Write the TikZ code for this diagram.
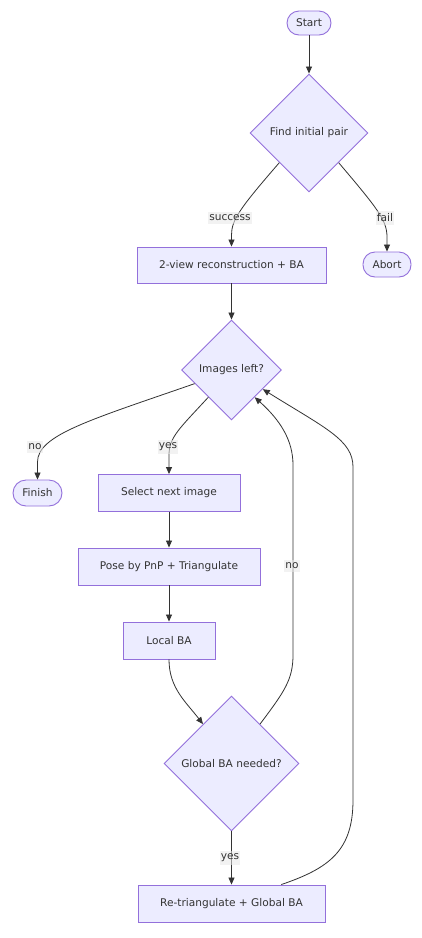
\documentclass[tikz,border=0pt]{standalone}
\usepackage{fontspec}
\setmainfont{DejaVu Sans}
\usetikzlibrary{shapes.geometric,arrows.meta,calc}
\definecolor{nodefill}{HTML}{ECECFF}
\definecolor{nodeline}{HTML}{9370DB}
\definecolor{txt}{HTML}{333333}
\definecolor{edgecol}{HTML}{333333}
\definecolor{lblbg}{HTML}{E8E8E8}
\begin{document}
\begin{tikzpicture}[x=1pt,y=-1pt,
  font=\fontsize{10.6}{12}\selectfont, text=txt,
  base/.style={draw=nodeline, fill=nodefill, line width=0.9pt, inner sep=0pt},
  procbox/.style={base, rectangle, minimum height=37pt},
  term/.style={base, rectangle, rounded corners=12pt},
  decision/.style={base, diamond, aspect=1},
  edgeline/.style={draw=edgecol, line width=0.8pt, -{Triangle[length=7pt,width=6pt]}},
  elabel/.style={fill=lblbg, fill opacity=0.55, text opacity=1, inner xsep=1pt, inner ysep=2.5pt}]
\fill[white] (0,0) rectangle (422,938);
\useasboundingbox (0,0) rectangle (422,938);

% nodes
\node[term, minimum width=44pt, minimum height=24pt] (start) at (309,23) {Start};
\node[decision, minimum width=118pt, minimum height=118pt] (d1) at (309,133) {Find initial pair};
\node[procbox, minimum width=189pt, minimum height=36pt] (rec2) at (231.5,265) {2-view reconstruction + BA};
\node[term, minimum width=48pt, minimum height=25pt] (abort) at (387,264.5) {Abort};
\node[decision, minimum width=100pt, minimum height=100pt] (d2) at (231.5,370) {Images left?};
\node[term, minimum width=49pt, minimum height=26pt, rounded corners=13pt] (finish) at (37.5,493) {Finish};
\node[procbox, minimum width=142pt] (select) at (169,493) {Select next image};
\node[procbox, minimum width=182pt] (pose) at (169,566.5) {Pose by PnP + Triangulate};
\node[procbox, minimum width=92pt] (local) at (169,640.5) {Local BA};
\node[decision, minimum width=135pt, minimum height=135pt] (d3) at (231.5,763.5) {Global BA needed?};
\node[procbox, minimum width=187pt] (retri) at (231.5,903.5) {Re-triangulate + Global BA};

% anchor points
\coordinate (d2a) at ($(d2.west)!0.27!(d2.south)$);
\coordinate (d2b) at ($(d2.west)!0.54!(d2.south)$);
\coordinate (d2c) at ($(d2.south)!0.46!(d2.east)$);
\coordinate (d2d) at ($(d2.south)!0.62!(d2.east)$);
\coordinate (d3a) at ($(d3.west)!0.58!(d3.north)$);
\coordinate (d3b) at ($(d3.north)!0.42!(d3.east)$);
\coordinate (rtop) at ($(retri.north west)!0.765!(retri.north east)$);

% edges
\draw[edgeline] (start.south) -- (d1.north);
\draw[edgeline] (d1.south west) .. controls (240,208) and (231.5,220) .. (231.5,235) -- (rec2.north);
\draw[edgeline] (d1.south east) .. controls (377,208) and (387,220) .. (387,237) -- (abort.north);
\draw[edgeline] (rec2.south) -- (d2.north);
\draw[edgeline] (d2a) .. controls (90,420) and (37.5,435) .. (37.5,462) -- (finish.north);
\draw[edgeline] (d2b) .. controls (180,428) and (169,437) .. (169,455) -- (select.north);
\draw[edgeline] (select.south) -- (pose.north);
\draw[edgeline] (pose.south) -- (local.north);
\draw[edgeline] (local.south) .. controls (169,688) and (186,702) .. (d3a);
\draw[edgeline] (d3.south) -- (retri.north);
\draw[edgeline] (d3b) .. controls (284,692) and (293,680) .. (293,655) -- (293,465) .. controls (293,440) and (280,420) .. (d2c);
\draw[edgeline] (rtop) .. controls (330,868) and (353,850) .. (353,800) -- (353,467) .. controls (353,440) and (325,428) .. (d2d);

% edge labels
\node[elabel] (lsuccess) at (230,218) {success};
\node[elabel] (lfail) at (385,218) {fail};
\node[elabel] (lno1) at (35,447) {no};
\node[elabel] (lyes1) at (168,447) {yes};
\node[elabel] (lno2) at (292,566) {no};
\node[elabel] (lyes2) at (230,858) {yes};
\end{tikzpicture}
\end{document}
